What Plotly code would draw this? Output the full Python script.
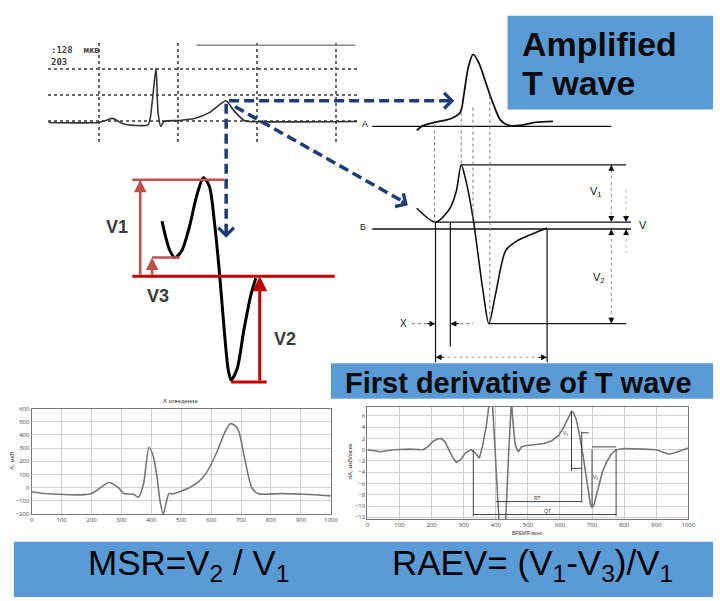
import plotly.graph_objects as go

W, H = 720, 601


def dx(a, b):
    return [a / W, b / W]


def dy(top, bot):
    return [1 - bot / H, 1 - top / H]


# ---------------- data ----------------
# top ECG strip (time ms, amplitude uV)
ecg_t = [72, 198, 218, 235, 255, 268, 325, 335, 345, 350, 357, 365, 405, 442, 480, 522, 542, 568, 580, 855]
ecg_a = [-5, -5, 5, 15, -5, -15, -15, 92, 261, 44, -24, 0, 5, 14, 43, 101, 53, 5, 0, 0]

# amplified T wave (schematic units)
ampT_x = [55, 60, 73, 90, 99, 103, 107, 112, 118, 125, 132, 140, 148, 160, 175, 193]
ampT_y = [-4, 0, 4, 8, 14, 34, 59, 73, 64, 44, 24, 6, 1, 1, 4, 5]

# derivative schematic (schematic units)
derS_x = [55, 74, 88, 95, 100, 105, 112, 122, 128, 135, 145, 155, 172, 187]
derS_y = [21, 7, 20, 38, 65, 48, 11, -62, -96, -65, -22, -13, -5, 1]

# V1 / V2 / V3 schematic
red_x = [62, 66, 70, 75, 82, 90, 97, 104, 110, 115, 120, 125, 129, 132, 138, 145, 152, 157]
red_y = [56, 39, 26, 19, 26, 51, 81, 100, 91, 56, 6, -54, -94, -105, -94, -54, -19, -2]

# bottom-left: lead X (ms, uV)
leadX_t = [0, 66, 198, 230, 258, 290, 308, 341, 357, 374, 392, 405, 418, 429, 440, 451, 459, 473,
           527, 560, 582, 615, 648, 664, 680, 692, 714, 736, 758, 835, 912, 1000]
leadX_a = [-30, -48, -45, 0, 40, 0, -44, -50, -72, 30, 305, 250, 100, -100, -200, -100, -45, -45,
           0, 50, 105, 250, 430, 485, 470, 430, 200, 0, -45, -45, -50, -62]

# bottom-right: first derivative (ms, uV/ms)
der_t = [0, 20, 41, 62, 82, 130, 174, 190, 205, 218, 230, 242, 255, 266, 277, 290, 305, 323, 337, 349,
         358, 370, 379, 385, 390, 400, 410, 420, 431, 439, 446, 449, 452, 460, 470, 480, 492, 520, 550,
         575, 595, 610, 622, 630, 636, 642, 650, 658, 665, 672, 680, 688, 695, 700, 706, 714, 722, 732,
         745, 760, 775, 800, 860, 900, 920, 940, 960, 980, 1000]
der_v = [0, -0.2, -0.35, -0.2, 0, 0.1, 0, 0.6, 1.5, 1.9, 2.0, 1.4, 0, -1.4, -2.2, -1.8, -0.6, 0, -0.6, -1.5,
         0.5, 4, 8, 12, 8, -2, -12.5, -16, -12.5, -2, 8, 9, 6, 1, -0.4, 0.5, 0.7, 0.9, 1.1,
         1.6, 2.5, 3.8, 5.2, 6.3, 6.8, 6.6, 5.5, 3.5, 1.5, -1, -4, -7.5, -9.7, -10.2, -9.8, -8, -6, -4,
         -2.2, -0.8, 0, 0.2, 0.1, 0, -0.4, -0.8, -0.5, -0.1, 0.3]

xE_ticks = list(range(0, 1001, 100))
yE_ticks = list(range(-200, 601, 100))
yF_ticks = list(range(-12, 9, 2))

BLUE = "#5b9bd5"
NAVY = "#1f3b73"
RED_L = "#c0504d"
RED_D = "#c00000"
FONT = "Liberation Sans, Arial, sans-serif"

fig = go.Figure()

# ---- traces ----
fig.add_trace(go.Scatter(x=ecg_t, y=ecg_a, mode="lines", line=dict(color="#333", width=1.6, shape="spline", smoothing=0.6),
                         xaxis="x", yaxis="y", hoverinfo="skip"))
fig.add_trace(go.Scatter(x=ampT_x, y=ampT_y, mode="lines", line=dict(color="#111", width=1.8, shape="spline", smoothing=0.8),
                         xaxis="x2", yaxis="y2", hoverinfo="skip"))
fig.add_trace(go.Scatter(x=derS_x, y=derS_y, mode="lines", line=dict(color="#111", width=1.6, shape="spline", smoothing=0.8),
                         xaxis="x3", yaxis="y3", hoverinfo="skip"))
fig.add_trace(go.Scatter(x=red_x, y=red_y, mode="lines", line=dict(color="#000", width=3, shape="spline", smoothing=0.8),
                         xaxis="x4", yaxis="y4", hoverinfo="skip"))
fig.add_trace(go.Scatter(x=leadX_t, y=leadX_a, mode="lines", line=dict(color="#777", width=1.6, shape="spline", smoothing=0.7),
                         xaxis="x5", yaxis="y5", hoverinfo="skip"))
fig.add_trace(go.Scatter(x=der_t, y=der_v, mode="lines", line=dict(color="#777", width=1.6),
                         xaxis="x6", yaxis="y6", hoverinfo="skip"))
fig.add_trace(go.Scatter(x=[0], y=[0], mode="markers", marker=dict(opacity=0), xaxis="x7", yaxis="y7", hoverinfo="skip"))

shapes = []
annos = []


def line(ref, x0, y0, x1, y1, color="#111", width=1, dash=None, layer="above"):
    d = dict(type="line", xref="x" + ref if ref else "x", yref="y" + ref if ref else "y",
             x0=x0, y0=y0, x1=x1, y1=y1, line=dict(color=color, width=width), layer=layer)
    if dash:
        d["line"]["dash"] = dash
    shapes.append(d)


def arrow(ref, x0, y0, x1, y1, color="#111", width=1, head=2, size=1.0):
    r = "x" + ref if ref else "x"
    ry = "y" + ref if ref else "y"
    annos.append(dict(x=x1, y=y1, ax=x0, ay=y0, xref=r, yref=ry, axref=r, ayref=ry, text="",
                      showarrow=True, arrowhead=head, arrowwidth=width, arrowcolor=color, arrowsize=size, standoff=0))


def text(ref, x, y, s, size=10, color="#111", bold=False, xanchor="center", yanchor="middle", family=FONT, textangle=0):
    r = "x" + ref if ref else "x"
    ry = "y" + ref if ref else "y"
    if bold:
        s = "<b>" + s + "</b>"
    annos.append(dict(x=x, y=y, xref=r, yref=ry, text=s, showarrow=False, xanchor=xanchor, yanchor=yanchor,
                      font=dict(size=size, color=color, family=family), textangle=textangle))


# ---- blue boxes (page overlay x7/y7) ----
for (x0, y0, x1, y1) in [(512, 12, 720, 107), (333, 364, 720, 400), (12, 545, 720, 601)]:
    shapes.append(dict(type="rect", xref="x7", yref="y7", x0=x0, y0=y0, x1=x1, y1=y1,
                       fillcolor=BLUE, line=dict(width=0), layer="below"))
text("7", 525, 41, "Amplified", size=34, bold=True, xanchor="left", color="#0a0a0a")
text("7", 525, 80, "T wave", size=34, bold=True, xanchor="left", color="#0a0a0a")
text("7", 523, 384, "First derivative of T wave", size=29, bold=True, color="#0a0a0a")
text("7", 189, 569, "MSR=V<sub>2</sub> / V<sub>1</sub>", size=35, color="#000")
text("7", 537, 569, "RAEV= (V<sub>1</sub>-V<sub>3</sub>)/V<sub>1</sub>", size=35, color="#000")

# ---- ECG strip extras ----
line("", 447, 372, 850, 372, color="#888", width=1.5)
text("7", 48, 47, ":128  мкв", size=9, bold=True, color="#444", xanchor="left", family="DejaVu Sans Mono")
text("7", 48, 59, "203", size=9, bold=True, color="#444", xanchor="left", family="DejaVu Sans Mono")

# ---- navy dashed connectors ----
for (x0, y0, x1, y1) in [(230, 98, 452, 98), (227, 101, 227, 233), (236, 104, 404, 199)]:
    line("7", x0, y0, x1, y1, color=NAVY, width=3.5, dash="10px,5px")
arrow("7", 450, 98, 458, 98, color=NAVY, width=3, head=4, size=1.0)
arrow("7", 227, 228, 227, 237, color=NAVY, width=3, head=4, size=1.0)
arrow("7", 403, 199, 411, 204, color=NAVY, width=3, head=4, size=1.0)

# ---- amplified T wave panel (x2) ----
line("2", 10, 0, 252, 0, width=1.4)
text("2", 8, 2, "A", size=9, xanchor="right")

# ---- derivative schematic panel (x3) ----
line("3", 10, 0, 272, 0, width=1.4)
line("3", 74, 7, 272, 7, width=1.2)
line("3", 100, 65, 267, 65, width=1.2)
line("3", 128, -96, 267, -96, width=1.2)
line("3", 74, 7, 74, -135, width=1.2)
line("3", 89, 6, 89, -119, width=1.2)
line("3", 187, 0, 187, -135, width=1.2)
# dotted projections from amplified T wave
for (xx, ya, yb) in [(73, 106, 7), (100, 118, 65), (112, 123, 11), (129, 135, -96)]:
    line("3", xx, ya, xx, yb, color="#777", width=1, dash="dot")
# time dimension
line("3", 80, -130, 181, -130, color="#999", width=1, dash="dot")
arrow("3", 84, -130, 74, -130, width=1.2)
arrow("3", 177, -130, 187, -130, width=1.2)
# X marker
text("3", 42, -96, "X", size=10)
line("3", 50, -96, 66, -96, color="#777", width=1, dash="dot")
arrow("3", 64, -96, 74, -96, width=1.2)
line("3", 99, -96, 112, -96, color="#777", width=1, dash="dot")
arrow("3", 99, -96, 89, -96, width=1.2)
# V arrows
line("3", 252, 60, 252, 12, color="#999", width=1, dash="dot")
arrow("3", 252, 57, 252, 65, width=1.2)
arrow("3", 252, 14, 252, 7, width=1.2)
arrow("3", 252, -8, 252, 0, width=1.2)
line("3", 252, -10, 252, -88, color="#999", width=1, dash="dot")
arrow("3", 252, -88, 252, -96, width=1.2)
line("3", 267, 40, 267, 12, color="#bbb", width=1, dash="dot")
arrow("3", 267, 14, 267, 7, width=1.2)
arrow("3", 267, -8, 267, 0, width=1.2)
line("3", 267, -10, 267, -25, color="#bbb", width=1, dash="dot")
text("3", 237, 37, "V<sub>1</sub>", size=11)
text("3", 284, 4, "V", size=11)
text("3", 240, -50, "V<sub>2</sub>", size=11)
text("3", 6, 2, "Б", size=9, xanchor="right")

# ---- V1 V2 V3 red schematic (x4) ----
line("4", 32, 98, 125, 98, color=RED_L, width=2.5)
line("4", 32, 0, 237, 0, color=RED_D, width=3)
arrow("4", 40, 0, 40, 98, color=RED_L, width=2.5, head=2, size=1.0)
line("4", 52, 19, 80, 19, color=RED_L, width=2.5)
arrow("4", 52, 0, 52, 19, color=RED_L, width=2.5, head=2, size=1.0)
line("4", 132, -107, 168, -107, color=RED_D, width=3)
arrow("4", 161, -107, 161, 0, color=RED_D, width=3, head=2, size=1.0)
text("7", 116, 226, "V1", size=18, bold=True, color="#3a3a3a")
text("7", 158, 296, "V3", size=18, bold=True, color="#3a3a3a")
text("7", 287, 340, "V2", size=18, bold=True, color="#3a3a3a")

# ---- bottom-left chart extras ----
text("7", 181, 402, "X отведение", size=6, color="#333")
text("7", 10, 463, "A, мкВ", size=6, color="#333", textangle=-90)

# ---- bottom-right chart extras ----
text("7", 532, 536, "ВРЕМЯ мсек", size=5, color="#333")
text("7", 352, 463, "dA, мкВ/мсек", size=6, color="#333", textangle=-90)
line("6", 636, 6.8, 636, -3.8, color="#444", width=1)
line("6", 668, 3.2, 668, -9.4, color="#444", width=1)
line("6", 700, 0, 700, -10.2, color="#444", width=1)
line("6", 775, 0, 775, -11.8, color="#444", width=1)
line("6", 330, 0, 330, -11.8, color="#444", width=1)
line("6", 400, -9.2, 668, -9.2, color="#444", width=1)
line("6", 330, -11.5, 775, -11.5, color="#444", width=1)
line("6", 636, -3.3, 668, -3.3, color="#444", width=1)
line("6", 668, 3.0, 690, 3.0, color="#444", width=1)
line("6", 700, 0.5, 775, 0.5, color="#444", width=1)
text("6", 530, -8.5, "RT", size=5, color="#333")
text("6", 560, -10.8, "QT", size=5, color="#333")
text("6", 618, 2.8, "V<sub>1</sub>", size=5, color="#333")
text("6", 712, -5, "V<sub>2</sub>", size=5, color="#333")

hidden = dict(visible=False, fixedrange=True)
tf = dict(size=6, color="#444")

fig.update_layout(
    width=W, height=H, autosize=False,
    margin=dict(l=0, r=0, t=0, b=0),
    paper_bgcolor="white", plot_bgcolor="rgba(0,0,0,0)",
    showlegend=False,
    xaxis=dict(domain=dx(47, 360), range=[72.5, 855], anchor="y", showgrid=True, gridcolor="#666", griddash="dot",
               gridwidth=1.5, tick0=0, dtick=200, showticklabels=False, zeroline=False, ticks="", showline=False),
    yaxis=dict(domain=dy(40, 140), range=[-101, 381], anchor="x", showgrid=True, gridcolor="#666", griddash="dot",
               gridwidth=1.5, tick0=0, dtick=128, showticklabels=False, zeroline=False, ticks="", showline=False),
    xaxis2=dict(domain=dx(365, 640), range=[0, 275], anchor="y2", **hidden),
    yaxis2=dict(domain=dy(40, 135), range=[-11, 84], anchor="x2", **hidden),
    xaxis3=dict(domain=dx(365, 660), range=[0, 295], anchor="y3", **hidden),
    yaxis3=dict(domain=dy(90, 370), range=[-142, 138], anchor="x3", **hidden),
    xaxis4=dict(domain=dx(100, 345), range=[0, 245], anchor="y4", **hidden),
    yaxis4=dict(domain=dy(165, 395), range=[-119, 111], anchor="x4", **hidden),
    xaxis5=dict(domain=dx(30, 333), range=[0, 1000], anchor="y5", tickvals=xE_ticks, showgrid=True, gridcolor="#d0d0d0",
                zeroline=False, showline=True, linecolor="#777", mirror=True, ticks="", tickfont=tf),
    yaxis5=dict(domain=dy(410, 517), range=[-200, 600], anchor="x5", tickvals=yE_ticks, showgrid=True, gridcolor="#d0d0d0",
                zeroline=False, showline=True, linecolor="#777", mirror=True, ticks="", tickfont=tf),
    xaxis6=dict(domain=dx(370, 695), range=[0, 1000], anchor="y6", tickvals=xE_ticks, showgrid=True, gridcolor="#d0d0d0",
                zeroline=False, showline=True, linecolor="#777", mirror=True, ticks="", tickfont=tf),
    yaxis6=dict(domain=dy(408, 522), range=[-12.3, 7.65], anchor="x6", tickvals=yF_ticks, showgrid=True, gridcolor="#d0d0d0",
                zeroline=False, showline=True, linecolor="#777", mirror=True, ticks="", tickfont=tf),
    xaxis7=dict(domain=[0, 1], range=[0, W], anchor="y7", **hidden),
    yaxis7=dict(domain=[0, 1], range=[H, 0], anchor="x7", **hidden),
    shapes=shapes,
    annotations=annos,
)

fig.write_html("out.html", post_script="document.body.style.margin='0';", config={"displayModeBar": False})
